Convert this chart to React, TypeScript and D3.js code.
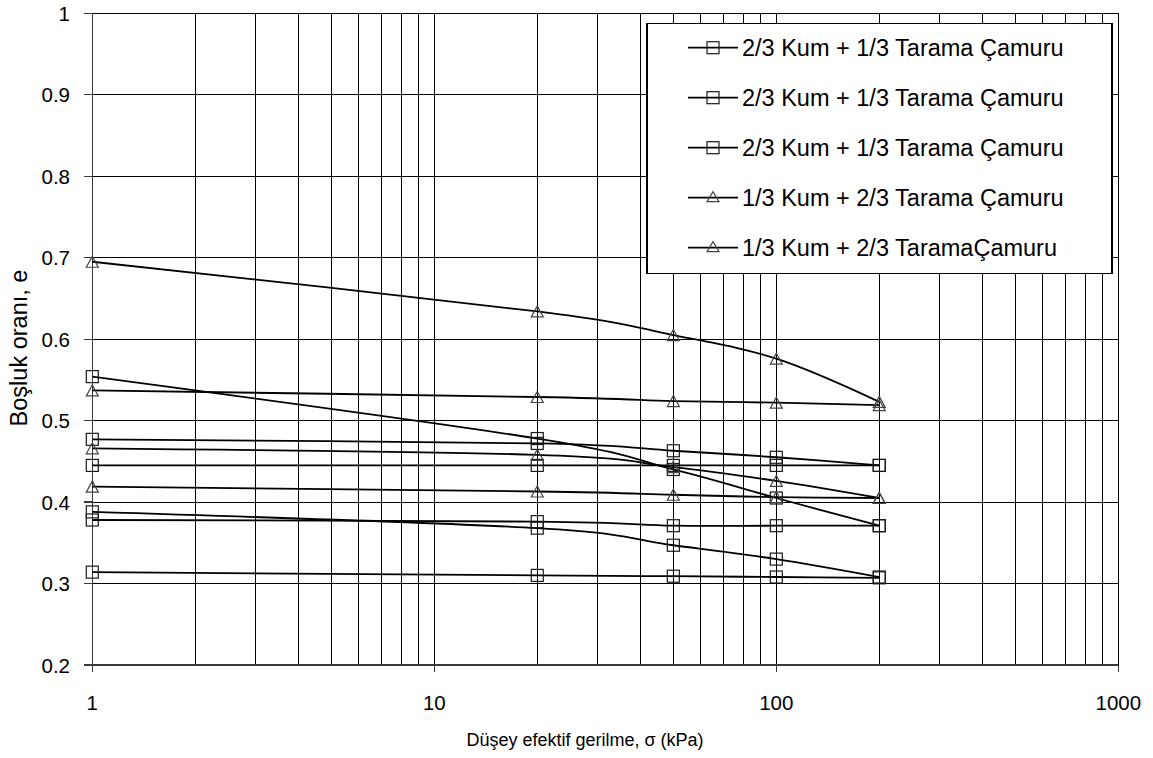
import React from "react";
import * as d3 from "d3";

const W = 1153;
const H = 758;

// Vertical effective stress levels (kPa)
const stressKPa = [1, 20, 50, 100, 200];

// Void ratio e, square-marker series
const squareA = [0.554, 0.478, 0.44, 0.405, 0.371];
const squareB = [0.477, 0.472, 0.463, 0.455, 0.445];
const squareC = [0.445, 0.445, 0.445, 0.445, 0.445];
const squareD = [0.388, 0.368, 0.347, 0.33, 0.308];
const squareE = [0.378, 0.376, 0.371, 0.371, 0.371];
const squareF = [0.314, 0.31, 0.309, 0.308, 0.307];

// Void ratio e, triangle-marker series
const triangleA = [0.695, 0.634, 0.605, 0.576, 0.523];
const triangleB = [0.537, 0.529, 0.524, 0.522, 0.519];
const triangleC = [0.466, 0.458, 0.443, 0.426, 0.405];
const triangleD = [0.419, 0.413, 0.409, 0.406, 0.405];

const squareSeries = [squareA, squareB, squareC, squareD, squareE, squareF];
const triangleSeries = [triangleA, triangleB, triangleC, triangleD];

const legendNames = [
  "2/3 Kum + 1/3 Tarama Çamuru",
  "2/3 Kum + 1/3 Tarama Çamuru",
  "2/3 Kum + 1/3 Tarama Çamuru",
  "1/3 Kum + 2/3 Tarama Çamuru",
  "1/3 Kum + 2/3 TaramaÇamuru",
];
const legendMarkers = ["square", "square", "square", "triangle", "triangle"];

const xTicks = [1, 10, 100, 1000];
const xTickLabels = ["1", "10", "100", "1000"];
const yTicks = [0.2, 0.3, 0.4, 0.5, 0.6, 0.7, 0.8, 0.9, 1];
const yTickLabels = ["0.2", "0.3", "0.4", "0.5", "0.6", "0.7", "0.8", "0.9", "1"];

const FONT = "'Liberation Sans', Arial, Helvetica, sans-serif";

function Square({ cx, cy, s = 12 }: { cx: number; cy: number; s?: number }) {
  return (
    <rect
      x={cx - s / 2}
      y={cy - s / 2}
      width={s}
      height={s}
      fill="none"
      stroke="#1a1a1a"
      strokeWidth={1.2}
    />
  );
}

function Triangle({ cx, cy, w = 12, h = 11 }: { cx: number; cy: number; w?: number; h?: number }) {
  const d = `M${cx - w / 2},${cy + h / 2}L${cx + w / 2},${cy + h / 2}L${cx},${cy - h / 2}Z`;
  return <path d={d} fill="none" stroke="#444" strokeWidth={1.2} />;
}

export default function App() {
  const left = 92.3;
  const right = 1118.3;
  const top = 13.3;
  const bottom = 665;

  const x = d3.scaleLog().domain([1, 1000]).range([left, right]);
  const y = d3.scaleLinear().domain([0.2, 1]).range([bottom, top]);

  const line = d3
    .line<[number, number]>()
    .x((d) => x(d[0]))
    .y((d) => y(d[1]))
    .curve(d3.curveCardinal.tension(0));

  // Log grid: every integer multiple within each decade
  const vGrid: number[] = [];
  for (const dec of [1, 10, 100]) {
    for (let k = 1; k <= 9; k++) vGrid.push(dec * k);
  }
  vGrid.push(1000);

  const toPts = (vals: number[]) => stressKPa.map((s, i) => [s, vals[i]] as [number, number]);

  const legend = { x: 647, y: 23.3, w: 465, h: 250 };

  return (
    <svg
      width={W}
      height={H}
      viewBox={`0 0 ${W} ${H}`}
      style={{ position: "absolute", left: 0, top: 0, background: "#fff" }}
      fontFamily={FONT}
    >
      <rect x={0} y={0} width={W} height={H} fill="#fff" />

      {/* grid */}
      <g stroke="#000" strokeWidth={1} shapeRendering="crispEdges">
        {vGrid.map((v) => (
          <line key={`v${v}`} x1={x(v)} x2={x(v)} y1={top} y2={bottom} />
        ))}
        {yTicks.map((v) => (
          <line key={`h${v}`} x1={left} x2={right} y1={y(v)} y2={y(v)} />
        ))}
      </g>

      {/* axes */}
      <g stroke="#3a3a3a" strokeWidth={1.3} shapeRendering="crispEdges">
        <line x1={left} x2={left} y1={top} y2={bottom + 7} />
        <line x1={left} x2={right} y1={bottom} y2={bottom} />
        {yTicks.map((v) => (
          <line key={`yt${v}`} x1={left - 8} x2={left} y1={y(v)} y2={y(v)} />
        ))}
        {xTicks.map((v) => (
          <line key={`xt${v}`} x1={x(v)} x2={x(v)} y1={bottom} y2={bottom + 7} />
        ))}
      </g>

      {/* tick labels */}
      <g fontSize={20.5} fill="#000">
        {yTicks.map((v, i) => (
          <text key={`yl${v}`} x={70} y={y(v)} textAnchor="end" dominantBaseline="central">
            {yTickLabels[i]}
          </text>
        ))}
        {xTicks.map((v, i) => (
          <text key={`xl${v}`} x={x(v)} y={702} textAnchor="middle" dominantBaseline="central">
            {xTickLabels[i]}
          </text>
        ))}
      </g>

      {/* axis titles */}
      <text x={585} y={746} textAnchor="middle" fontSize={18} fill="#000">
        Düşey efektif gerilme, σ (kPa)
      </text>
      <text
        transform={`translate(27,348) rotate(-90)`}
        textAnchor="middle"
        fontSize={23.5}
        fill="#000"
      >
        Boşluk oranı, e
      </text>

      {/* data lines */}
      <g fill="none" stroke="#000" strokeWidth={1.8}>
        {[...squareSeries, ...triangleSeries].map((s, i) => (
          <path key={`ln${i}`} d={line(toPts(s)) || ""} />
        ))}
      </g>

      {/* markers */}
      <g>
        {squareSeries.map((s, i) =>
          stressKPa.map((st, j) => <Square key={`sq${i}-${j}`} cx={x(st)} cy={y(s[j])} />)
        )}
        {triangleSeries.map((s, i) =>
          stressKPa.map((st, j) => <Triangle key={`tr${i}-${j}`} cx={x(st)} cy={y(s[j])} />)
        )}
      </g>

      {/* legend */}
      <g>
        <rect
          x={legend.x}
          y={legend.y}
          width={legend.w}
          height={legend.h}
          fill="#fff"
          stroke="#000"
          strokeWidth={1.2}
          shapeRendering="crispEdges"
        />
        {legendNames.map((name, i) => {
          const ry = 47.7 + i * 50;
          return (
            <g key={`lg${i}`}>
              <line x1={688} x2={738} y1={ry} y2={ry} stroke="#000" strokeWidth={1.8} />
              {legendMarkers[i] === "square" ? (
                <Square cx={713} cy={ry} s={12} />
              ) : (
                <Triangle cx={713} cy={ry - 1} w={12} h={10} />
              )}
              <text x={742} y={ry} dominantBaseline="central" fontSize={23.5} fill="#000">
                {name}
              </text>
            </g>
          );
        })}
      </g>
    </svg>
  );
}
